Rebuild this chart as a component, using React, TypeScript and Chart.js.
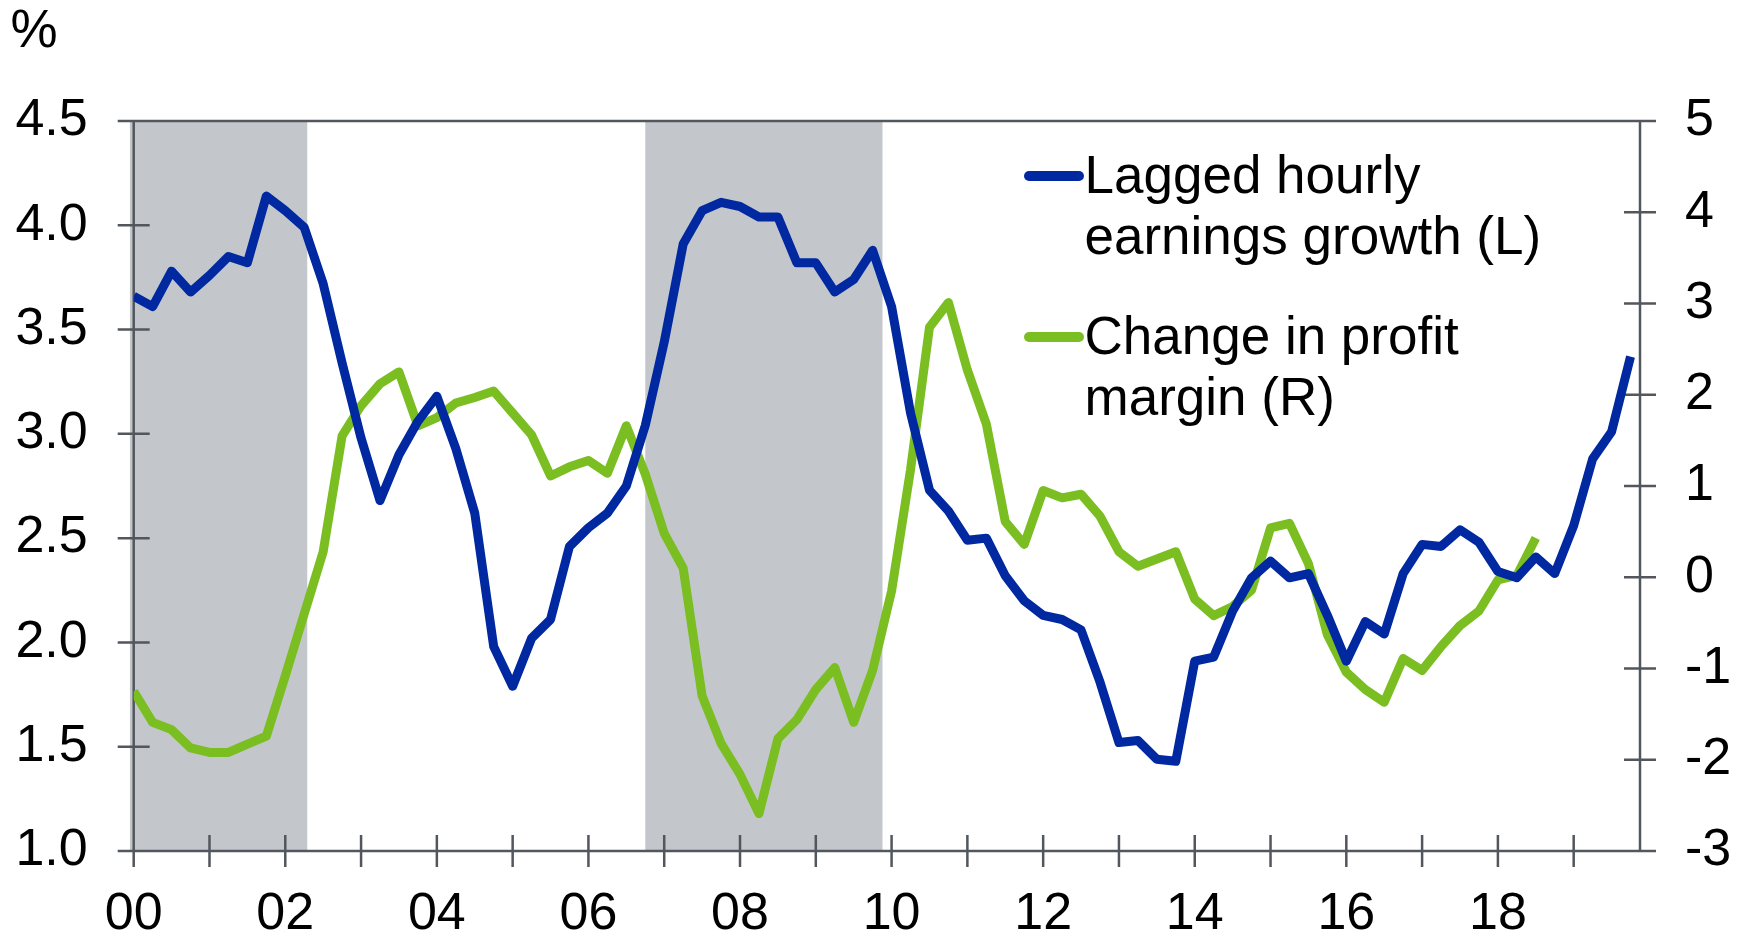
import { useEffect, useRef } from 'react';
import { Chart, registerables } from 'chart.js';

Chart.register(...registerables);

// ---------- data ----------
const quarters: string[] = [];
for (let y = 2000; y <= 2019; y++) for (let q = 1; q <= 4; q++) quarters.push(`${y}Q${q}`);

const earningsGrowth = [
  3.66, 3.61, 3.78, 3.68, 3.76, 3.85, 3.82, 4.14, 4.07, 3.99, 3.72, 3.34,
  2.98, 2.68, 2.90, 3.06, 3.18, 2.93, 2.62, 1.98, 1.79, 2.02, 2.11, 2.46,
  2.55, 2.62, 2.75, 3.04, 3.44, 3.91, 4.07, 4.11, 4.09, 4.04, 4.04, 3.82,
  3.82, 3.68, 3.74, 3.88, 3.61, 3.10, 2.73, 2.63, 2.49, 2.50, 2.32, 2.20,
  2.13, 2.11, 2.06, 1.81, 1.52, 1.53, 1.44, 1.43, 1.91, 1.93, 2.15, 2.31,
  2.39, 2.31, 2.33, 2.13, 1.91, 2.10, 2.04, 2.33, 2.47, 2.46, 2.54, 2.48,
  2.34, 2.31, 2.41, 2.33, 2.56, 2.88, 3.01, 3.37,
];

const profitMarginChange = [
  -1.25, -1.59, -1.67, -1.87, -1.92, -1.92, -1.83, -1.74, -1.08, -0.40, 0.28, 1.55,
  1.88, 2.12, 2.25, 1.66, 1.75, 1.91, 1.97, 2.04, 1.80, 1.56, 1.11, 1.21,
  1.28, 1.14, 1.66, 1.13, 0.48, 0.10, -1.30, -1.82, -2.16, -2.59, -1.77, -1.56,
  -1.23, -0.99, -1.59, -1.02, -0.15, 1.18, 2.74, 3.01, 2.27, 1.68, 0.61, 0.36,
  0.95, 0.87, 0.91, 0.67, 0.28, 0.12, 0.20, 0.28, -0.24, -0.42, -0.32, -0.14,
  0.54, 0.59, 0.15, -0.63, -1.04, -1.23, -1.37, -0.89, -1.02, -0.76, -0.53, -0.37,
  -0.03, 0.02, 0.43,
];

const years = [2000, 2001, 2002, 2003, 2004, 2005, 2006, 2007, 2008, 2009, 2010, 2011, 2012, 2013, 2014, 2015, 2016, 2017, 2018, 2019];
const yearLabels = ['00', '', '02', '', '04', '', '06', '', '08', '', '10', '', '12', '', '14', '', '16', '', '18', ''];

const shadeStarts = [1999.95, 2006.75];
const shadeEnds = [2002.29, 2009.88];

const legendEntries = [
  ['Lagged hourly', 'earnings growth (L)'],
  ['Change in profit', 'margin (R)'],
];
const unitLabel = '%';

// ---------- styles ----------
const BLUE = 'rgb(0, 40, 160)';
const GREEN = 'rgb(122, 190, 34)';
const SHADE = 'rgb(195, 199, 204)';
const AXIS = 'rgb(82, 87, 93)';
const FONT = "'Liberation Sans', Arial, sans-serif";
const TICK_SIZE = 52;

const quarterToX = (s: string) => Number(s.slice(0, 4)) + (Number(s.slice(5)) - 1) / 4;

const framePlugin = {
  id: 'frame',
  beforeDatasetsDraw(chart: any) {
    const { ctx, chartArea, scales } = chart;
    const { left, right, top, bottom } = chartArea;
    const xs = scales.x;
    ctx.save();
    // shaded periods
    ctx.fillStyle = SHADE;
    shadeStarts.forEach((s, i) => {
      const x0 = xs.getPixelForValue(s);
      const x1 = xs.getPixelForValue(shadeEnds[i]);
      ctx.fillRect(x0, top, x1 - x0, bottom - top);
    });
    // frame
    ctx.strokeStyle = AXIS;
    ctx.lineWidth = 2.5;
    ctx.lineCap = 'butt';
    const T = 16;
    ctx.beginPath();
    ctx.moveTo(left - T, top); ctx.lineTo(right + T, top);
    ctx.moveTo(left - T, bottom); ctx.lineTo(right + T, bottom);
    ctx.moveTo(left, top); ctx.lineTo(left, bottom);
    ctx.moveTo(right, top); ctx.lineTo(right, bottom);
    scales.y.ticks.forEach((t: any) => {
      const py = scales.y.getPixelForValue(t.value);
      ctx.moveTo(left - T, py); ctx.lineTo(left + T, py);
    });
    scales.y1.ticks.forEach((t: any) => {
      const py = scales.y1.getPixelForValue(t.value);
      ctx.moveTo(right - T, py); ctx.lineTo(right + T, py);
    });
    xs.ticks.forEach((t: any) => {
      const px = xs.getPixelForValue(t.value);
      ctx.moveTo(px, bottom - T); ctx.lineTo(px, bottom + T);
    });
    ctx.stroke();
    ctx.restore();
  },
};

const legendPlugin = {
  id: 'customLegend',
  afterDatasetsDraw(chart: any) {
    const { ctx } = chart;
    const colors = [BLUE, GREEN];
    ctx.save();
    // unit label
    ctx.fillStyle = '#000';
    ctx.font = `53px ${FONT}`;
    ctx.textBaseline = 'alphabetic';
    ctx.textAlign = 'left';
    ctx.fillText(unitLabel, 10.4, 47);
    // legend
    ctx.font = `53px ${FONT}`;
    legendEntries.forEach((lines, k) => {
      const base = 193 + k * 161;
      ctx.strokeStyle = colors[k];
      ctx.lineWidth = 10;
      ctx.lineCap = 'round';
      ctx.beginPath();
      ctx.moveTo(1029, base - 17);
      ctx.lineTo(1079, base - 17);
      ctx.stroke();
      ctx.fillStyle = '#000';
      lines.forEach((ln, j) => ctx.fillText(ln, 1084.5, base + j * 61));
    });
    ctx.restore();
  },
};

export default function App() {
  const ref = useRef<HTMLCanvasElement>(null);

  useEffect(() => {
    if (!ref.current) return;
    const chart = new Chart(ref.current, {
      type: 'line',
      data: {
        datasets: [
          {
            label: 'Lagged hourly earnings growth (L)',
            data: earningsGrowth.map((v, i) => ({ x: quarterToX(quarters[i]), y: v })),
            borderColor: BLUE,
            borderWidth: 9,
            pointRadius: 0,
            borderJoinStyle: 'round',
            borderCapStyle: 'butt',
            tension: 0,
            yAxisID: 'y',
          },
          {
            label: 'Change in profit margin (R)',
            data: profitMarginChange.map((v, i) => ({ x: quarterToX(quarters[i]), y: v })),
            borderColor: GREEN,
            borderWidth: 9,
            pointRadius: 0,
            borderJoinStyle: 'round',
            borderCapStyle: 'butt',
            tension: 0,
            yAxisID: 'y1',
          },
        ],
      },
      options: {
        animation: false,
        responsive: false,
        devicePixelRatio: 1,
        layout: { padding: { top: 121, left: 0, right: 0, bottom: 0 } },
        plugins: { legend: { display: false }, tooltip: { enabled: false } },
        scales: {
          x: {
            type: 'linear',
            min: 2000,
            max: 2019.875,
            grid: { display: false, drawTicks: false },
            border: { display: false },
            afterBuildTicks: (scale: any) => {
              scale.ticks = years.map((v) => ({ value: v }));
            },
            afterFit: (scale: any) => {
              scale.height = 87;
            },
            ticks: {
              autoSkip: false,
              maxRotation: 0,
              padding: 32,
              color: '#000',
              font: { family: FONT, size: TICK_SIZE },
              callback: (_v: any, i: number) => yearLabels[i],
            },
          },
          y: {
            type: 'linear',
            position: 'left',
            min: 1,
            max: 4.5,
            grid: { display: false, drawTicks: false },
            border: { display: false },
            afterFit: (scale: any) => {
              scale.width = 133.7;
            },
            ticks: {
              stepSize: 0.5,
              padding: 46,
              color: '#000',
              font: { family: FONT, size: TICK_SIZE },
              callback: (v: any) => Number(v).toFixed(1),
            },
          },
          y1: {
            type: 'linear',
            position: 'right',
            min: -3,
            max: 5,
            grid: { display: false, drawTicks: false },
            border: { display: false },
            afterFit: (scale: any) => {
              scale.width = 107;
            },
            ticks: {
              stepSize: 1,
              padding: 45,
              color: '#000',
              font: { family: FONT, size: TICK_SIZE },
              callback: (v: any) => String(Math.round(Number(v))),
            },
          },
        },
      },
      plugins: [framePlugin, legendPlugin],
    } as any);
    return () => chart.destroy();
  }, []);

  return (
    <div style={{ position: 'fixed', left: 0, top: 0, width: 1747, height: 938, background: '#fff' }}>
      <canvas ref={ref} width={1747} height={938} style={{ display: 'block' }} />
    </div>
  );
}
